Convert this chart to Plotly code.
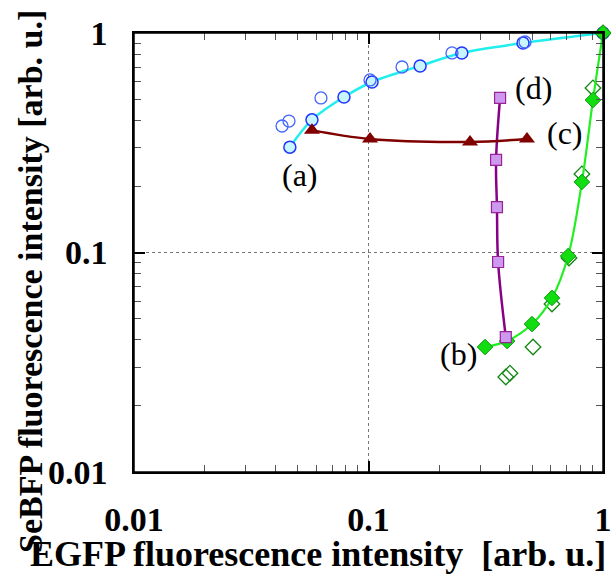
import plotly.graph_objects as go

# (a) filled circles with line
a_x = [0.0462, 0.0574, 0.0786, 0.1035, 0.166, 0.250, 0.456, 1.0]
a_y = [0.302, 0.402, 0.511, 0.598, 0.708, 0.811, 0.900, 1.0]
# (a) open circles
ao_x = [0.0428, 0.0458, 0.0627, 0.1015, 0.139, 0.227, 0.465]
ao_y = [0.377, 0.397, 0.506, 0.611, 0.700, 0.811, 0.910]
# (c) triangles
c_x = [0.0574, 0.1015, 0.271, 0.474]
c_y = [0.361, 0.329, 0.319, 0.329]
# (d) squares
d_x = [0.364, 0.350, 0.353, 0.357, 0.385]
d_y = [0.506, 0.264, 0.161, 0.0905, 0.0412]
# (b) filled diamonds
b_x = [0.314, 0.390, 0.498, 0.606, 0.710, 0.813, 0.906, 1.0]
b_y = [0.0371, 0.0395, 0.0472, 0.0621, 0.0964, 0.2096, 0.495, 1.0]
# (b) open diamonds
bo_x = [0.385, 0.401, 0.503, 0.606, 0.716, 0.813, 0.906, 1.0]
bo_y = [0.0271, 0.0282, 0.0371, 0.0583, 0.0944, 0.228, 0.562, 1.0]

major_ticks = [0.01, 0.1, 1]
major_text = ["0.01", "0.1", "1"]
minor_ticks = [k * 10 ** e for e in (-2, -1) for k in range(2, 10)]

labels = ["(a)", "(b)", "(c)", "(d)"]
label_pos = [(300, 175), (458, 354), (565, 133), (533, 88)]  # page pixels

W, H = 611, 574
L, R, T, B = 134, 8, 33, 102
pw = W - L - R
ph = H - T - B


def to_paper(px, py):
    return (px - L) / pw, (H - B - py) / ph


fig = go.Figure()
fig.add_trace(go.Scatter(x=a_x, y=a_y, mode="lines+markers",
                         line=dict(color="#22eeee", width=2.5, shape="spline", smoothing=1),
                         marker=dict(symbol="circle", size=12, color="#c8f6ff",
                                     line=dict(color="#2233ff", width=1.5)),
                         cliponaxis=False))
fig.add_trace(go.Scatter(x=ao_x, y=ao_y, mode="markers",
                         marker=dict(symbol="circle-open", size=12, color="#4466ff",
                                     line=dict(width=1.3)),
                         cliponaxis=False))
fig.add_trace(go.Scatter(x=bo_x, y=bo_y, mode="markers",
                         marker=dict(symbol="diamond-open", size=12, color="#118811",
                                     line=dict(width=1.3)),
                         cliponaxis=False))
fig.add_trace(go.Scatter(x=b_x, y=b_y, mode="lines+markers",
                         line=dict(color="#22ee22", width=2.2, shape="spline", smoothing=1),
                         marker=dict(symbol="diamond", size=12, color="#11dd11",
                                     line=dict(color="#119911", width=1)),
                         cliponaxis=False))
fig.add_trace(go.Scatter(x=d_x, y=d_y, mode="lines+markers",
                         line=dict(color="#880088", width=2.5, shape="spline", smoothing=1),
                         marker=dict(symbol="square", size=11, color="#cc99ee",
                                     line=dict(color="#992299", width=1.2)),
                         cliponaxis=False))
fig.add_trace(go.Scatter(x=c_x, y=c_y, mode="lines+markers",
                         line=dict(color="#800000", width=2.5, shape="spline", smoothing=1),
                         marker=dict(symbol="triangle-up", size=14, color="#800000",
                                     line=dict(color="#800000", width=0)),
                         cliponaxis=False))

for txt, (px, py) in zip(labels, label_pos):
    ax_, ay_ = to_paper(px, py)
    fig.add_annotation(x=ax_, y=ay_, xref="paper", yref="paper",
                       text=txt, showarrow=False, xanchor="center", yanchor="middle",
                       font=dict(family="Liberation Serif", size=32, color="black"))

xt_x, xt_y = to_paper(318, 554)
fig.add_annotation(x=xt_x, y=xt_y, xref="paper", yref="paper",
                   text="EGFP fluorescence intensity \u00a0[arb. u.]", showarrow=False,
                   xanchor="center", yanchor="middle",
                   font=dict(family="Liberation Serif", size=36, color="black", weight="bold"))
yt_x, yt_y = to_paper(30, 282)
fig.add_annotation(x=yt_x, y=yt_y, xref="paper", yref="paper",
                   text="SeBFP fluorescence intensity [arb. u.]", showarrow=False,
                   textangle=-90, xanchor="center", yanchor="middle",
                   font=dict(family="Liberation Serif", size=34, color="black", weight="bold"))

# explicit frame around the plotting area
fig.add_shape(type="rect", xref="paper", yref="paper", x0=0, y0=0, x1=1, y1=1,
              line=dict(color="black", width=1.5), fillcolor="rgba(0,0,0,0)", layer="above")

axis_common = dict(
    type="log", range=[-2, 0], automargin=False,
    tickvals=major_ticks, ticktext=major_text,
    ticks="inside", ticklen=11, tickwidth=1.5, tickcolor="black",
    showline=True, linecolor="black", linewidth=1.5, mirror="allticks",
    showgrid=True, gridcolor="#777777", griddash="dot", gridwidth=1,
    zeroline=False, ticklabeloverflow="allow",
    tickfont=dict(family="Liberation Serif", size=34, color="black", weight="bold"),
    minor=dict(tickvals=minor_ticks, ticks="inside", ticklen=7, tickwidth=1.2,
               tickcolor="#555555", showgrid=False),
)

fig.update_layout(
    width=W, height=H,
    margin=dict(l=L, r=R, t=T, b=B, autoexpand=False),
    paper_bgcolor="white", plot_bgcolor="white",
    showlegend=False,
    xaxis=dict(axis_common, ticklabelstandoff=16),
    yaxis=dict(axis_common, ticklabelstandoff=18),
)

fig.write_html(
    "out.html",
    config={"displayModeBar": False},
    post_script="document.body.style.margin='0';document.body.style.overflow='hidden';",
)
